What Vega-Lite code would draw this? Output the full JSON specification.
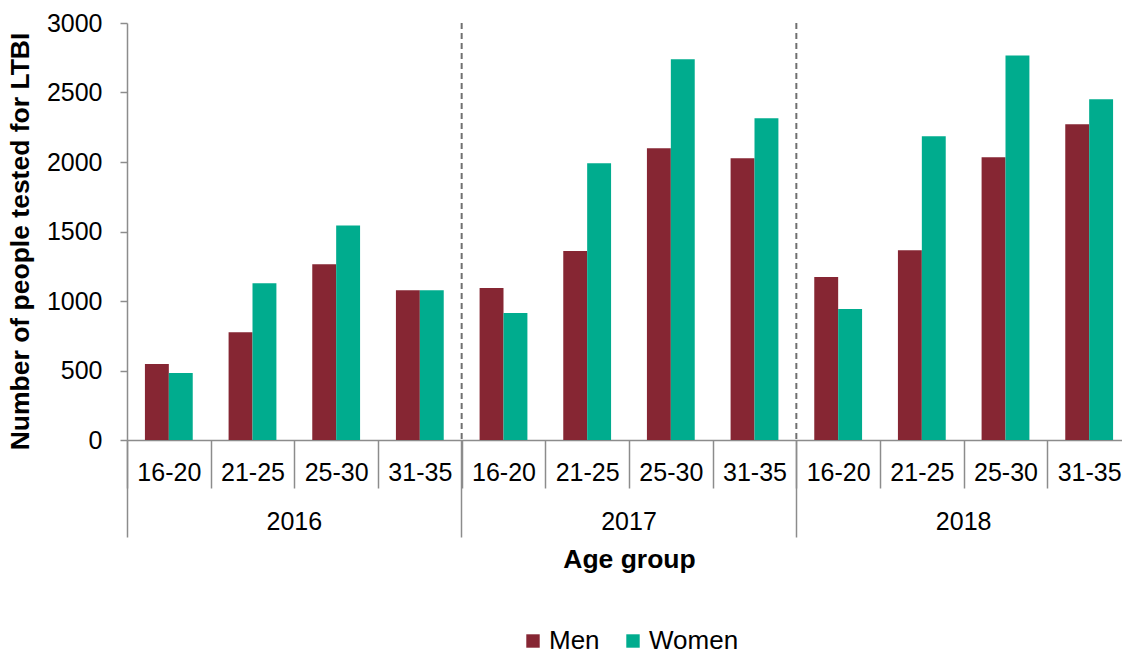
{
  "$schema": "https://vega.github.io/schema/vega-lite/v6.json",
  "autosize": "none",
  "width": 1004,
  "height": 417,
  "padding": {"left": 127, "top": 23, "right": 0, "bottom": 215},
  "background": "white",
  "config": {"font": "Liberation Sans", "view": {"stroke": null}},
  "datasets": {
    "bars": [
      {"key": "2016|16-20", "year": "2016", "age": "16-20", "sex": "Men", "value": 546},
      {"key": "2016|16-20", "year": "2016", "age": "16-20", "sex": "Women", "value": 482},
      {"key": "2016|21-25", "year": "2016", "age": "21-25", "sex": "Men", "value": 776},
      {"key": "2016|21-25", "year": "2016", "age": "21-25", "sex": "Women", "value": 1128},
      {"key": "2016|25-30", "year": "2016", "age": "25-30", "sex": "Men", "value": 1265},
      {"key": "2016|25-30", "year": "2016", "age": "25-30", "sex": "Women", "value": 1543},
      {"key": "2016|31-35", "year": "2016", "age": "31-35", "sex": "Men", "value": 1078},
      {"key": "2016|31-35", "year": "2016", "age": "31-35", "sex": "Women", "value": 1078},
      {"key": "2017|16-20", "year": "2017", "age": "16-20", "sex": "Men", "value": 1093},
      {"key": "2017|16-20", "year": "2017", "age": "16-20", "sex": "Women", "value": 913},
      {"key": "2017|21-25", "year": "2017", "age": "21-25", "sex": "Men", "value": 1359},
      {"key": "2017|21-25", "year": "2017", "age": "21-25", "sex": "Women", "value": 1991},
      {"key": "2017|25-30", "year": "2017", "age": "25-30", "sex": "Men", "value": 2099},
      {"key": "2017|25-30", "year": "2017", "age": "25-30", "sex": "Women", "value": 2739},
      {"key": "2017|31-35", "year": "2017", "age": "31-35", "sex": "Men", "value": 2027},
      {"key": "2017|31-35", "year": "2017", "age": "31-35", "sex": "Women", "value": 2315},
      {"key": "2018|16-20", "year": "2018", "age": "16-20", "sex": "Men", "value": 1172},
      {"key": "2018|16-20", "year": "2018", "age": "16-20", "sex": "Women", "value": 942},
      {"key": "2018|21-25", "year": "2018", "age": "21-25", "sex": "Men", "value": 1366},
      {"key": "2018|21-25", "year": "2018", "age": "21-25", "sex": "Women", "value": 2185},
      {"key": "2018|25-30", "year": "2018", "age": "25-30", "sex": "Men", "value": 2034},
      {"key": "2018|25-30", "year": "2018", "age": "25-30", "sex": "Women", "value": 2767},
      {"key": "2018|31-35", "year": "2018", "age": "31-35", "sex": "Men", "value": 2271},
      {"key": "2018|31-35", "year": "2018", "age": "31-35", "sex": "Women", "value": 2451}
    ],
    "seps": [
      {"key": "2017|16-20"},
      {"key": "2018|16-20"}
    ]
  },
  "layer": [
    {
      "data": {"name": "bars"},
      "mark": {"type": "bar"},
      "encoding": {
        "x": {
          "field": "key",
          "type": "nominal",
          "sort": null,
          "scale": {
            "domain": ["2016|16-20", "2016|21-25", "2016|25-30", "2016|31-35", "2017|16-20", "2017|21-25", "2017|25-30", "2017|31-35", "2018|16-20", "2018|21-25", "2018|25-30", "2018|31-35"],
            "paddingInner": 0,
            "paddingOuter": 0
          },
          "axis": {
            "orient": "bottom",
            "title": null,
            "labelExpr": "split(datum.value, '|')[1]",
            "labelAngle": 0,
            "labelFontSize": 25,
            "labelColor": "#000000",
            "labelBaseline": "top",
            "labelPadding": -28,
            "labelOverlap": false,
            "labelFlush": false,
            "tickBand": "extent",
            "tickSize": 48,
            "tickColor": "#8c8c8c",
            "tickWidth": 1.5,
            "domainColor": "#8c8c8c",
            "domainWidth": 1.5
          }
        },
        "xOffset": {
          "field": "sex",
          "type": "nominal",
          "sort": ["Men", "Women"],
          "scale": {"paddingInner": 0, "paddingOuter": 0.75}
        },
        "y": {
          "field": "value",
          "type": "quantitative",
          "scale": {"domain": [0, 3000], "nice": false},
          "axis": {
            "values": [0, 500, 1000, 1500, 2000, 2500, 3000],
            "format": "d",
            "grid": false,
            "domainColor": "#8c8c8c",
            "domainWidth": 1.5,
            "tickColor": "#8c8c8c",
            "tickWidth": 1.5,
            "tickSize": 7,
            "labelFontSize": 25,
            "labelColor": "#000000",
            "labelPadding": 18,
            "labelFlush": false,
            "labelBaseline": "middle",
            "title": "Number of people tested for LTBI",
            "titleFontSize": 26.5,
            "titleFontWeight": "bold",
            "titleColor": "#000000",
            "titleX": -93,
            "titleY": 218,
            "titleAngle": -90,
            "titleAlign": "center",
            "titleBaseline": "bottom"
          }
        },
        "color": {
          "field": "sex",
          "type": "nominal",
          "scale": {"domain": ["Men", "Women"], "range": ["#862633", "#00AC8E"]},
          "legend": {
            "orient": "none",
            "legendX": 393,
            "legendY": 605,
            "direction": "horizontal",
            "title": null,
            "symbolType": "square",
            "symbolSize": 180,
            "symbolStrokeWidth": 0,
            "labelFontSize": 26,
            "labelColor": "#000000",
            "labelOffset": 3,
            "columnPadding": 20
          }
        }
      }
    },
    {
      "data": {"name": "seps"},
      "mark": {"type": "rule", "strokeDash": [6, 4], "color": "#707070", "strokeWidth": 2},
      "encoding": {
        "x": {
          "field": "key",
          "type": "nominal",
          "bandPosition": 0,
          "axis": {
            "orient": "bottom",
            "values": ["2016|16-20", "2017|16-20", "2018|16-20"],
            "labelExpr": "split(datum.value, '|')[0]",
            "bandPosition": 0,
            "tickSize": 97,
            "tickColor": "#8c8c8c",
            "tickWidth": 1.5,
            "domain": false,
            "labelAngle": 0,
            "labelOffset": 125.5,
            "labelPadding": -28,
            "labelBaseline": "top",
            "labelFontSize": 25,
            "labelColor": "#000000",
            "labelOverlap": false,
            "labelFlush": false,
            "title": "Age group",
            "titleFontSize": 26.5,
            "titleFontWeight": "bold",
            "titleColor": "#000000",
            "titlePadding": 9
          }
        }
      }
    }
  ],
  "resolve": {"axis": {"x": "independent"}}
}
